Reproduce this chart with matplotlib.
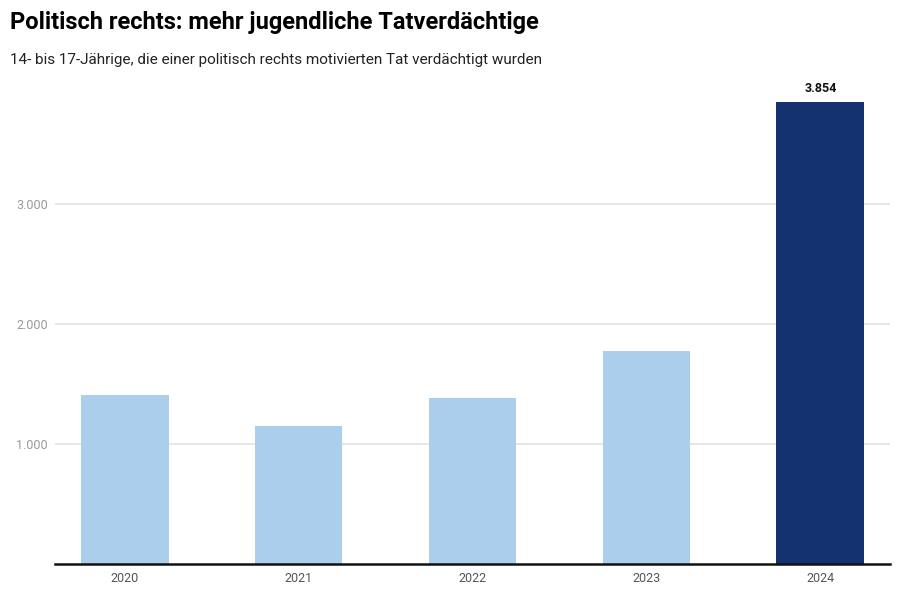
import matplotlib.pyplot as plt
from matplotlib.ticker import FuncFormatter

plt.rcParams['font.family'] = ['Roboto', 'DejaVu Sans']

years = ["2020", "2021", "2022", "2023", "2024"]
suspects = [1405, 1152, 1386, 1778, 3854]
bar_colors = ["#abceed", "#abceed", "#abceed", "#abceed", "#13326f"]

fig = plt.figure(figsize=(9.02, 5.99), dpi=100)
ax = fig.add_axes([55 / 902, 35 / 599, 835 / 902, 480 / 599])

x = range(len(years))
ax.bar(x, suspects, width=0.505, color=bar_colors, zorder=3)

ax.set_xlim(-0.40, 4.40)
ax.set_ylim(0, 4000)
ax.set_yticks([1000, 2000, 3000])
ax.yaxis.set_major_formatter(FuncFormatter(lambda v, p: f"{int(v):,}".replace(",", ".")))
ax.set_xticks(list(x))
ax.set_xticklabels(years)
ax.grid(axis="y", color="#e2e2e2", lw=1.2, zorder=0)

for side in ["top", "right", "left"]:
    ax.spines[side].set_visible(False)
ax.spines["bottom"].set_color("#111111")
ax.spines["bottom"].set_linewidth(1.8)
ax.spines["bottom"].set_zorder(4)

ax.tick_params(axis="y", length=0, labelsize=9, labelcolor="#999999", pad=5)
ax.tick_params(axis="x", length=0, labelsize=9, labelcolor="#555555", pad=6)

# value label for the latest year
last = len(suspects) - 1
ax.annotate(f"{suspects[last]:,}".replace(",", "."), (last, suspects[last]),
            xytext=(0, 5), textcoords="offset points", ha="center", va="bottom",
            fontsize=9, fontweight="bold", color="#111111")

fig.text(10 / 902, 1 - 22 / 599, "Politisch rechts: mehr jugendliche Tatverdächtige",
         fontsize=17, fontweight="bold", va="center", ha="left")
fig.text(10 / 902, 1 - 60 / 599,
         "14- bis 17-Jährige, die einer politisch rechts motivierten Tat verdächtigt wurden",
         fontsize=11, va="center", ha="left", color="#222222")

fig.savefig("out.png", dpi=100)
